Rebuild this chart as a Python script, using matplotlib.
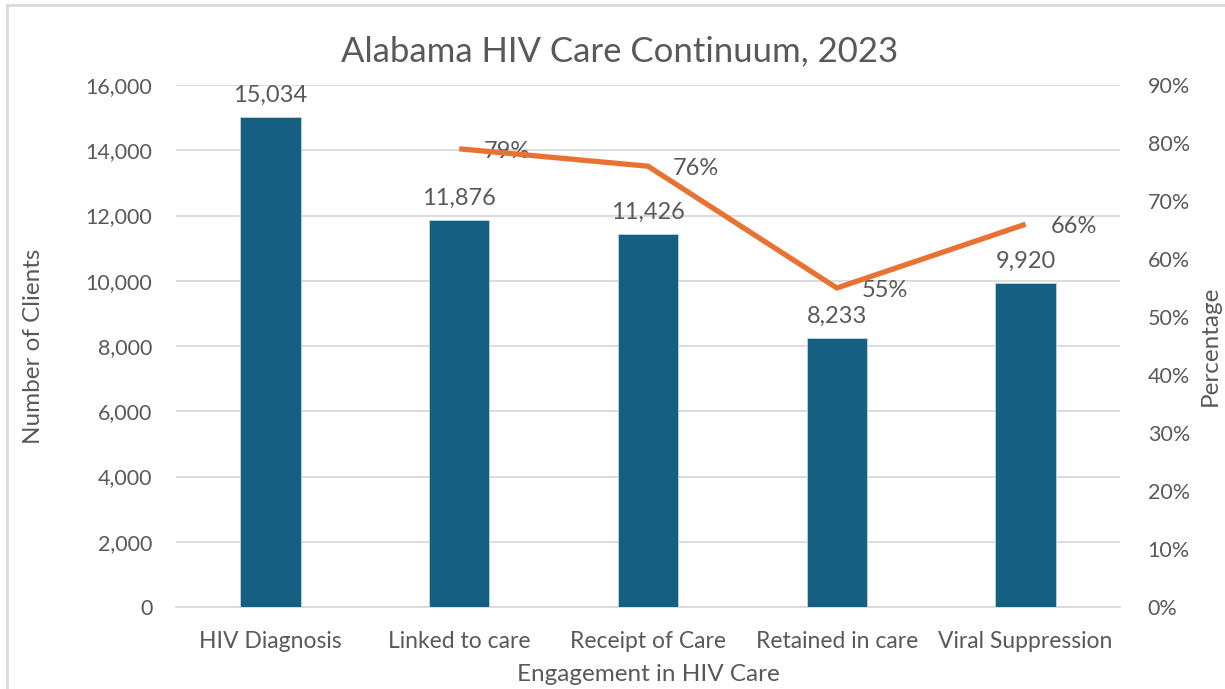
import numpy as np
import matplotlib
matplotlib.use("Agg")
import matplotlib.pyplot as plt
from matplotlib.patches import Rectangle
from matplotlib.ticker import FuncFormatter, MultipleLocator

categories = ["HIV Diagnosis", "Linked to care", "Receipt of Care",
              "Retained in care", "Viral Suppression"]
clients = [15034, 11876, 11426, 8233, 9920]
pct_categories = categories[1:]
pct_values = [0.79, 0.76, 0.55, 0.66]

bar_color = "#156082"
line_color = "#E97132"
text_color = "#595959"
grid_color = "#D9D9D9"

plt.rcParams["font.family"] = ["Lato", "DejaVu Sans"]

fig = plt.figure(figsize=(12.25, 6.89), dpi=100)
fig.patches.append(Rectangle((7 / 1225, -0.1), 1.2, 1.1 - 5 / 689,
                             transform=fig.transFigure, fill=False,
                             edgecolor=grid_color, linewidth=2))

ax = fig.add_axes([176 / 1225, 1 - 607 / 689, (1120 - 176) / 1225, (607 - 85) / 689])
x = np.arange(len(categories))
bars = ax.bar(x, clients, width=0.32, color=bar_color, edgecolor="#BFD3DD",
              linewidth=0.6, zorder=3)

ax.set_xlim(-0.5, len(categories) - 0.5)
ax.set_ylim(0, 16000)
ax.yaxis.set_major_locator(MultipleLocator(2000))
ax.yaxis.set_major_formatter(FuncFormatter(lambda v, p: f"{int(v):,}"))
ax.grid(axis="y", color=grid_color, linewidth=1.3, zorder=0)
ax.set_xticks(x)
ax.set_xticklabels(categories, fontsize=16.5)
for s in ["top", "right", "left"]:
    ax.spines[s].set_visible(False)
ax.spines["bottom"].set_color(grid_color)
ax.spines["bottom"].set_linewidth(1.3)
ax.tick_params(axis="both", length=0, colors=text_color)
ax.tick_params(axis="y", pad=17, labelsize=15.5)
ax.tick_params(axis="x", pad=17)

for b, v in zip(bars, clients):
    ax.annotate(f"{v:,}", (b.get_x() + b.get_width() / 2, v),
                xytext=(0, 8), textcoords="offset points",
                ha="center", va="bottom", fontsize=17, color=text_color)

ax.set_ylabel("Number of Clients", fontsize=17.5, color=text_color, labelpad=30)
ax.set_xlabel("Engagement in HIV Care", fontsize=17.5, color=text_color, labelpad=9)
ax.set_title("Alabama HIV Care Continuum, 2023", fontsize=25, color=text_color,
             pad=17, x=(620 - 176) / 944)

ax2 = ax.twinx()
px = [categories.index(c) for c in pct_categories]
ax2.plot(px, pct_values, color=line_color, linewidth=3.8, zorder=4,
         solid_capstyle="butt")
ax2.set_ylim(0, 0.9)
ax2.yaxis.set_major_locator(MultipleLocator(0.1))
ax2.yaxis.set_major_formatter(FuncFormatter(lambda v, p: f"{v * 100:.0f}%"))
for s in ax2.spines.values():
    s.set_visible(False)
ax2.tick_params(axis="y", length=0, labelsize=15.5, colors=text_color, pad=20)
ax2.set_ylabel("Percentage", fontsize=17.5, color=text_color, labelpad=7)
for xi, v in zip(px, pct_values):
    ax2.annotate(f"{v * 100:.0f}%", (xi, v), xytext=(18, -2),
                 textcoords="offset points", ha="left", va="center",
                 fontsize=17, color=text_color)

fig.savefig("out.png", dpi=100, facecolor="white")
